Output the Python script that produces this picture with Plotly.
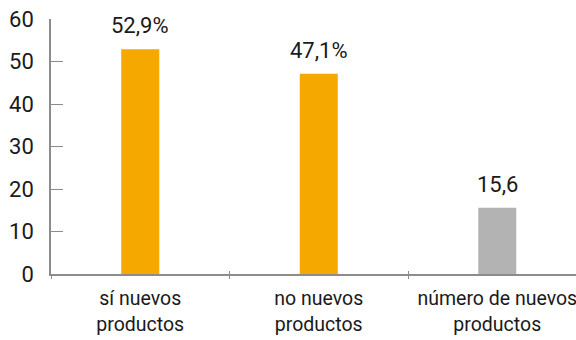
import plotly.graph_objects as go

categories = ["sí nuevos<br>productos", "no nuevos<br>productos", "número de nuevos<br>productos"]
values = [52.9, 47.1, 15.6]
labels = ["52,9%", "47,1%", "15,6"]
colors = ["#F5A800", "#F5A800", "#B3B3B3"]
y_ticks = [0, 10, 20, 30, 40, 50, 60]

FONT = "Roboto, Liberation Sans Narrow, DejaVu Sans Condensed, sans-serif"

fig = go.Figure()
fig.add_trace(go.Bar(x=categories, y=values, marker_color=colors, width=0.213,
                     marker_line_width=0, hoverinfo="skip"))
fig.add_trace(go.Scatter(x=categories, y=values, xaxis="x2", mode="markers",
                         marker=dict(opacity=0), hoverinfo="skip", showlegend=False))

for c, v, t in zip(categories, values, labels):
    fig.add_annotation(x=c, y=v, text=t, showarrow=False, yanchor="bottom",
                       yshift=9, font=dict(size=22, color="#1a1a1a", family=FONT))

fig.update_layout(
    width=576, height=340,
    margin=dict(l=51, r=0, t=19, b=66),
    paper_bgcolor="white", plot_bgcolor="white",
    showlegend=False,
    font=dict(family=FONT, color="#1a1a1a"),
    xaxis=dict(type="category", range=[-0.5, 2.441], showline=True, linecolor="#8c8c8c",
               linewidth=1.5, ticks="outside", ticklen=3, tickcolor="#8c8c8c",
               tickson="boundaries", ticklabelstandoff=6,
               tickfont=dict(size=19.5, family=FONT, color="#1a1a1a"),
               showgrid=False, zeroline=False, fixedrange=True, automargin=False),
    xaxis2=dict(type="category", overlaying="x", matches="x", range=[-0.5, 2.441],
                ticks="inside", ticklen=3, tickcolor="#8c8c8c", tickson="boundaries",
                showticklabels=False, showline=False, showgrid=False, zeroline=False,
                side="bottom", automargin=False),
    yaxis=dict(range=[0, 60], tickvals=y_ticks, showline=True, linecolor="#8c8c8c",
               linewidth=1.5, ticks="inside", ticklen=12, tickcolor="#8c8c8c",
               ticklabelstandoff=11,
               tickfont=dict(size=22, family=FONT, color="#1a1a1a"),
               showgrid=False, zeroline=False, fixedrange=True, automargin=False),
)

fig.write_html("out.html", config={"displayModeBar": False},
               post_script="document.body.style.margin='0';")
